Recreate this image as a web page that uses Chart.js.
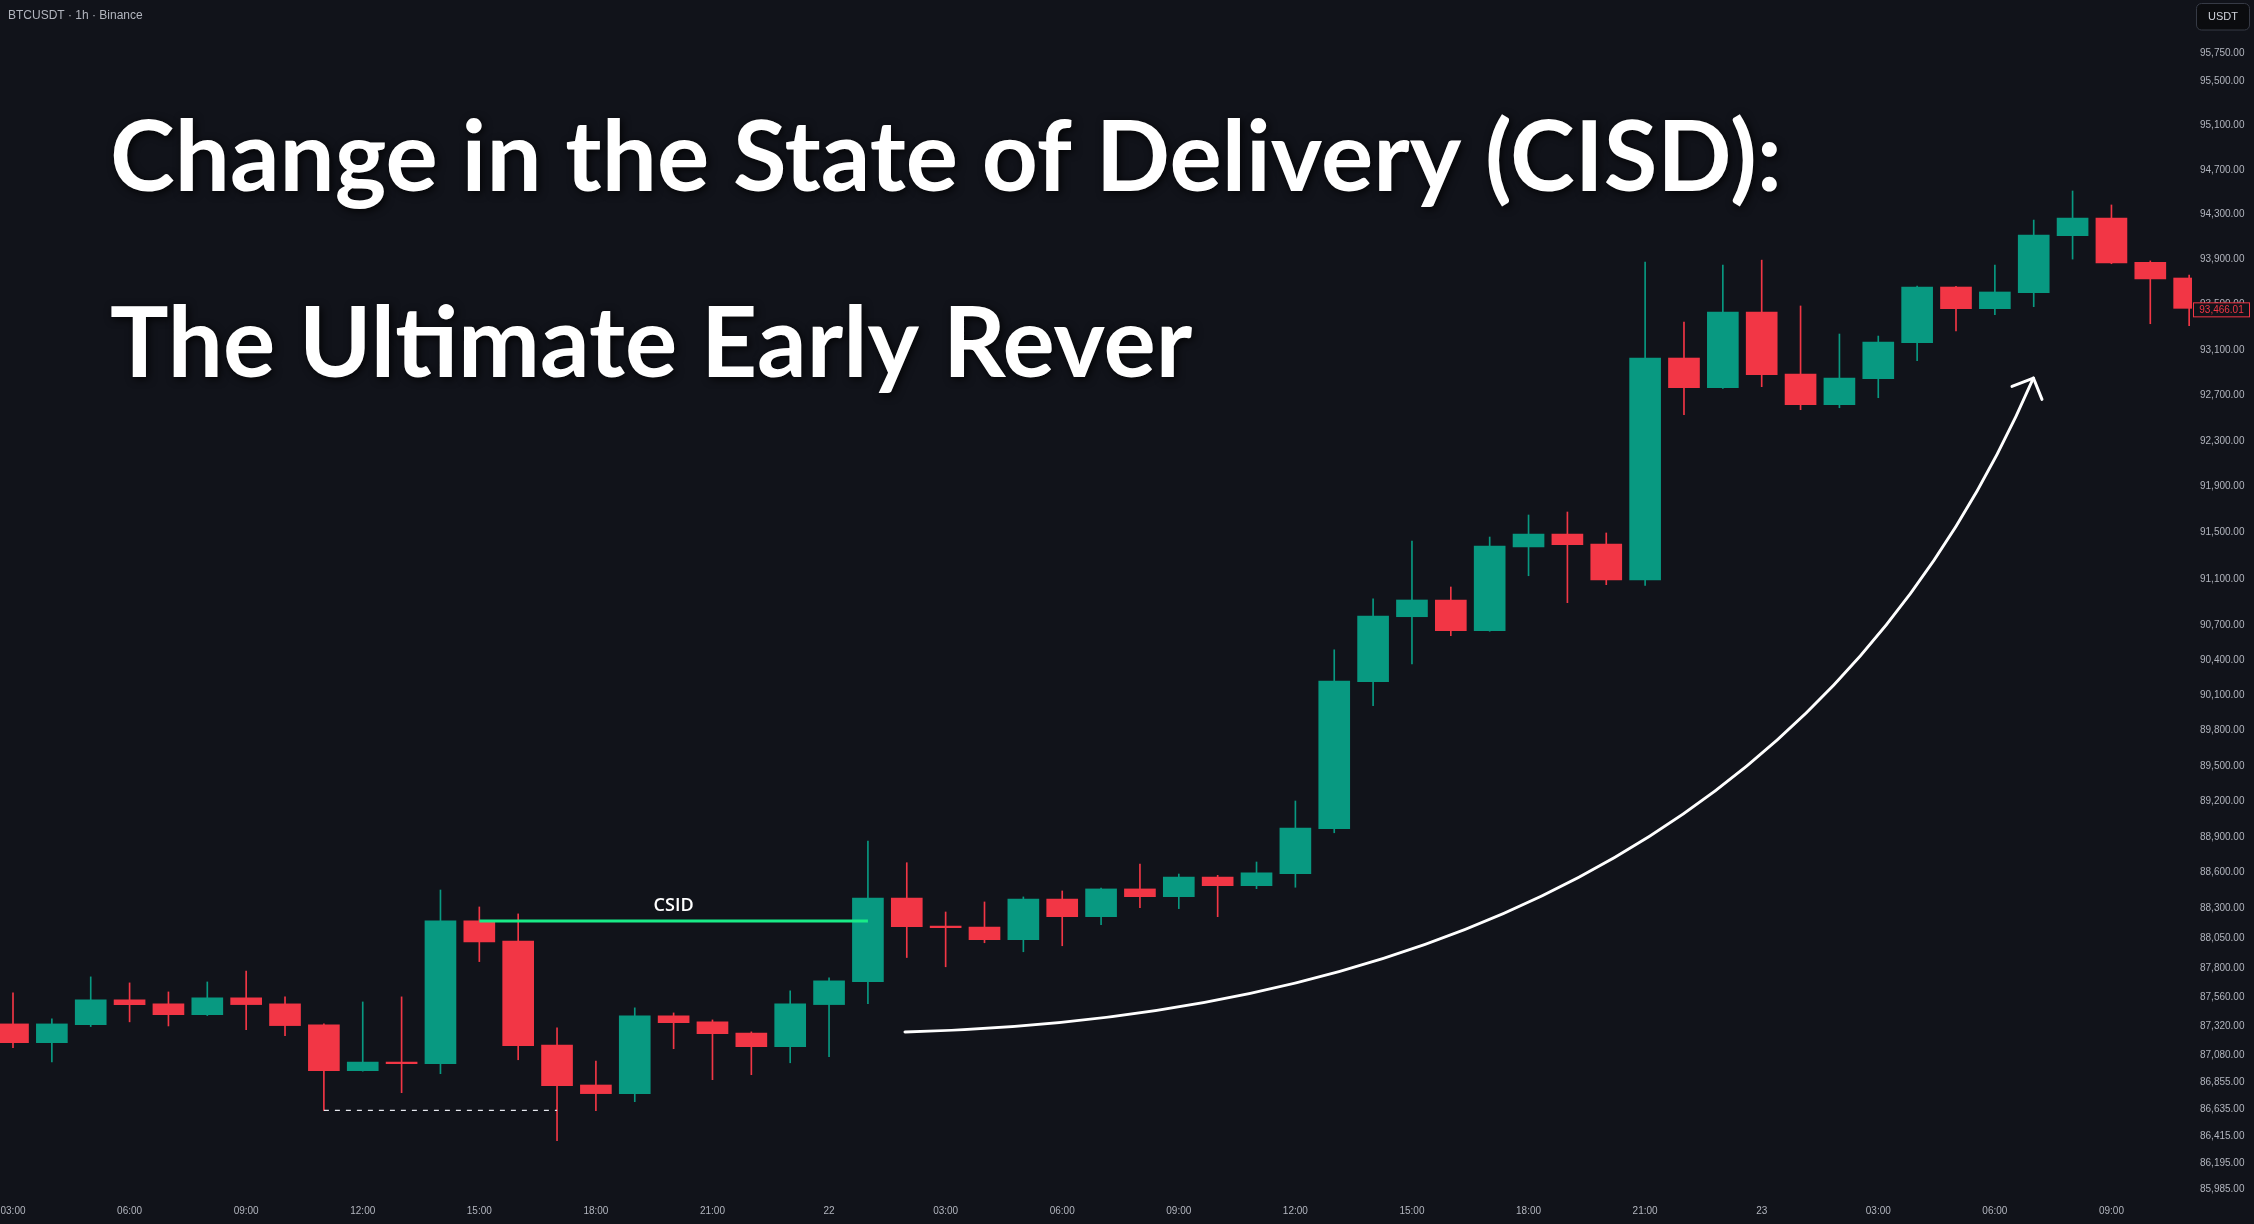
<!DOCTYPE html>
<html>
<head>
<meta charset="utf-8">
<script src="https://cdn.jsdelivr.net/npm/chart.js@4.4.0/dist/chart.umd.min.js"></script>
<style>
html,body{margin:0;padding:0;background:#11131a;overflow:hidden}
canvas{display:block}
</style>
</head>
<body>
<canvas id="c" width="2254" height="1224"></canvas>
<script>
// ---- Data (BTCUSDT 1h, 21 Nov 03:00 -> 23 Nov 11:00) ----
const opens  = [87340,87185,87334,87539,87506,87417,87556,87506,87332,86953,
                87025,87011,88196,88028,87166,86836,86765,87406,87357,87265,
                87152,87500,87691,88388,88154,88145,88039,88380,88232,88464,
                88399,88564,88491,88592,88970,90218,90775,90919,90655,91378,
                91489,91402,91092,93027,92766,93433,92886,92617,92845,93162,
                93655,93463,93605,94111,94269,93875,93735];
const highs  = [87597,87381,87730,87680,87605,87688,87779,87564,87340,87522,
                87564,88455,88313,88255,87307,87033,87473,87431,87373,87274,
                87614,87722,88866,88684,88271,88355,88397,88447,88472,88673,
                88589,88578,88690,89204,90491,90928,91428,91031,91463,91654,
                91680,91498,93877,93345,93850,93894,93487,93239,93221,93664,
                93662,93850,94251,94511,94386,93887,93761];
const lows   = [87143,87027,87318,87357,87323,87409,87293,87243,86628,86950,
                86773,86929,87857,87044,86379,86625,86699,87135,86880,86921,
                87019,87069,87508,87891,87814,88014,87939,87989,88165,88307,
                88299,88232,88466,88478,88936,90013,90371,90612,90650,91128,
                90896,91051,91045,92529,92760,92775,92573,92590,92678,93003,
                93267,93410,93481,93903,93862,93330,93313];
const closes = [87185,87340,87539,87500,87417,87556,87500,87326,86953,87025,
                87011,88196,88022,87160,86830,86765,87406,87351,87260,87152,
                87506,87697,88388,88148,88140,88039,88380,88232,88464,88399,
                88564,88491,88598,88976,90224,90781,90919,90655,91384,91489,
                91396,91092,93027,92766,93433,92880,92617,92851,93168,93655,
                93463,93611,94117,94269,93869,93727,93466.01];

const xTickIndex  = [0,3,6,9,12,15,18,21,24,27,30,33,36,39,42,45,48,51,54];
const xTickLabels = ['03:00','06:00','09:00','12:00','15:00','18:00','21:00','22',
                     '03:00','06:00','09:00','12:00','15:00','18:00','21:00','23',
                     '03:00','06:00','09:00'];
const yTickValues = [95750,95500,95100,94700,94300,93900,93500,93100,92700,92300,
                     91900,91500,91100,90700,90400,90100,89800,89500,89200,88900,
                     88600,88300,88050,87800,87560,87320,87080,86855,86635,86415,
                     86195,85985];

// annotations (in data space: [candle index, price])
const csidFrom = 12, csidTo = 22, csidLevel = closes[11];
const sweepFrom = 8, sweepTo = 14, sweepLevel = lows[8];
const arrowStart   = [22.954, 87273];
const arrowControl = [44.956, 87455];
const arrowEnd     = [51.992, 92851];
const lastPrice = 93466.01;
const titleLines = ['Change in the State of Delivery (CISD):', 'The Ultimate Early Rever'];
const headerText = 'BTCUSDT · 1h · Binance';

// ---- Styles ----
const BG = '#11131a';
const GREEN = '#089981';
const RED = '#f23645';
const AXIS_TEXT = '#b2b5be';

const idx = opens.map((_, i) => i);
const candleColors = idx.map(i => closes[i] >= opens[i] ? GREEN : RED);
const fmt = v => Number(v).toLocaleString('en-US', {minimumFractionDigits: 2, maximumFractionDigits: 2});

const overlay = {
  id: 'overlay',
  beforeDraw(chart) {
    const ctx = chart.ctx;
    ctx.save();
    ctx.fillStyle = BG;
    ctx.fillRect(0, 0, chart.width, chart.height);
    ctx.restore();
  },
  afterDraw(chart) {
    const ctx = chart.ctx;
    const xs = chart.scales.x, ys = chart.scales.y;
    const P = p => [xs.getPixelForValue(p[0]), ys.getPixelForValue(p[1])];

    // Title
    ctx.save();
    ctx.font = '700 98px Lato';
    ctx.fillStyle = '#ffffff';
    ctx.textBaseline = 'alphabetic';
    ctx.textAlign = 'left';
    ctx.shadowColor = 'rgba(0,0,0,0.85)';
    ctx.shadowBlur = 8;
    ctx.shadowOffsetX = 2;
    ctx.shadowOffsetY = 2;
    const sx = 1672 / ctx.measureText(titleLines[0]).width;
    ctx.save(); ctx.translate(110, 191); ctx.scale(sx, 1); ctx.fillText(titleLines[0], 0, 0); ctx.restore();
    ctx.save(); ctx.translate(110, 377); ctx.scale(sx, 1); ctx.fillText(titleLines[1], 0, 0); ctx.restore();
    ctx.restore();

    // CSID label
    ctx.save();
    ctx.font = '600 18px "Open Sans"';
    ctx.fillStyle = '#ffffff';
    ctx.textAlign = 'center';
    ctx.textBaseline = 'alphabetic';
    ctx.fillText('CSID', xs.getPixelForValue((csidFrom + csidTo) / 2), ys.getPixelForValue(csidLevel) - 9.5);
    ctx.restore();

    // Curved arrow (quadratic curve) + head
    const [x0, y0] = P(arrowStart), [cx, cy] = P(arrowControl), [tx, ty] = P(arrowEnd);
    ctx.save();
    ctx.strokeStyle = '#ffffff';
    ctx.lineWidth = 3;
    ctx.lineCap = 'round';
    ctx.lineJoin = 'round';
    ctx.beginPath();
    ctx.moveTo(x0, y0);
    ctx.quadraticCurveTo(cx, cy, tx, ty);
    ctx.stroke();
    const ang = Math.atan2(ty - cy, tx - cx);
    const L = 23, spread = 0.79;
    ctx.beginPath();
    ctx.moveTo(tx - L * Math.cos(ang - spread), ty - L * Math.sin(ang - spread));
    ctx.lineTo(tx, ty);
    ctx.lineTo(tx - L * Math.cos(ang + spread), ty - L * Math.sin(ang + spread));
    ctx.stroke();
    ctx.restore();

    // Header
    ctx.save();
    ctx.font = '12px "Liberation Sans"';
    ctx.fillStyle = AXIS_TEXT;
    ctx.textBaseline = 'middle';
    ctx.textAlign = 'left';
    ctx.fillText(headerText, 8, 16);
    ctx.restore();

    // USDT button
    ctx.save();
    ctx.beginPath();
    ctx.roundRect(2196.5, 3.5, 53, 26.5, 5);
    ctx.fillStyle = '#0b0c0f';
    ctx.fill();
    ctx.strokeStyle = '#363a45';
    ctx.lineWidth = 1;
    ctx.stroke();
    ctx.font = '11px "Liberation Sans"';
    ctx.fillStyle = '#d1d4dc';
    ctx.textAlign = 'center';
    ctx.textBaseline = 'middle';
    ctx.fillText('USDT', 2223, 17);
    ctx.restore();

    // Last price label
    const lp = ys.getPixelForValue(lastPrice);
    ctx.save();
    ctx.fillStyle = BG;
    ctx.fillRect(2193.5, lp - 5.5, 56, 14);
    ctx.strokeStyle = RED;
    ctx.lineWidth = 1;
    ctx.strokeRect(2193.5, lp - 5.5, 56, 14);
    ctx.font = '10px "Liberation Sans"';
    ctx.fillStyle = RED;
    ctx.textAlign = 'center';
    ctx.textBaseline = 'middle';
    ctx.fillText(fmt(lastPrice), 2221.5, lp + 1.5);
    ctx.restore();
  }
};

const chart = new Chart(document.getElementById('c'), {
  type: 'bar',
  data: {
    datasets: [
      {
        type: 'line',
        label: 'CSID',
        data: [{x: csidFrom, y: csidLevel}, {x: csidTo, y: csidLevel}],
        borderColor: '#19eb87',
        borderWidth: 3,
        pointRadius: 0,
        fill: false,
        order: 0
      },
      {
        type: 'line',
        label: 'sweep',
        data: [{x: sweepFrom, y: sweepLevel}, {x: sweepTo, y: sweepLevel}],
        borderColor: '#e6e8ee',
        borderWidth: 1.3,
        borderDash: [5, 6],
        pointRadius: 0,
        fill: false,
        order: 0
      },
      {
        label: 'bodies',
        data: idx.map(i => ({x: i, y: [opens[i], closes[i]]})),
        backgroundColor: candleColors,
        borderWidth: 0,
        barThickness: 31,
        grouped: false,
        clip: 0,
        order: 1
      },
      {
        label: 'wicks',
        data: idx.map(i => ({x: i, y: [lows[i], highs[i]]})),
        backgroundColor: candleColors,
        borderWidth: 0,
        barThickness: 1,
        grouped: false,
        clip: 0,
        order: 2
      }
    ]
  },
  options: {
    responsive: false,
    animation: false,
    devicePixelRatio: 1,
    layout: {padding: 0},
    plugins: {legend: {display: false}, tooltip: {enabled: false}, title: {display: false}},
    scales: {
      x: {
        type: 'linear',
        position: 'bottom',
        offset: false,
        min: -0.33453,
        max: 56.0731,
        bounds: 'data',
        grid: {display: false, drawTicks: false, offset: false},
        border: {display: false},
        afterBuildTicks: s => { s.ticks = xTickIndex.map(v => ({value: v})); },
        afterFit: s => { s.height = 28; s.paddingLeft = 0; s.paddingRight = 0; },
        ticks: {
          autoSkip: false,
          maxRotation: 0,
          padding: 9,
          color: AXIS_TEXT,
          font: {family: '"Liberation Sans"', size: 10},
          callback: v => { const k = xTickIndex.indexOf(v); return k >= 0 ? xTickLabels[k] : ''; }
        }
      },
      y: {
        type: 'logarithmic',
        position: 'right',
        offset: false,
        min: 85927.6,
        max: 96236.5,
        bounds: 'data',
        grid: {display: false, drawTicks: false},
        border: {display: false},
        afterBuildTicks: s => { s.ticks = yTickValues.map(v => ({value: v})); },
        afterFit: s => { s.width = 62; s.paddingTop = 0; s.paddingBottom = 0; },
        ticks: {
          autoSkip: false,
          crossAlign: 'near',
          padding: 8,
          color: AXIS_TEXT,
          font: {family: '"Liberation Sans"', size: 10},
          callback: v => fmt(v)
        }
      }
    }
  },
  plugins: [overlay]
});
</script>
</body>
</html>
